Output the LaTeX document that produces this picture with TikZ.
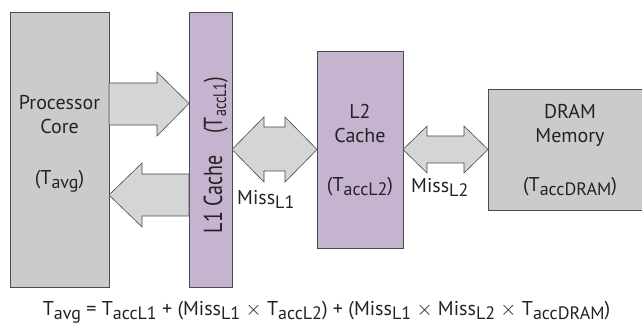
\documentclass[tikz,border=0pt]{standalone}
\usepackage{fontspec}
\setmainfont{PT Sans}
\usetikzlibrary{calc}

\definecolor{coregray}{RGB}{202,203,204}
\definecolor{arrowgray}{RGB}{212,213,214}
\definecolor{cachepurple}{RGB}{197,179,208}
\definecolor{edgegray}{RGB}{75,75,75}
\definecolor{textgray}{RGB}{35,35,35}

% large, lowered subscripts
\newcommand{\sub}[1]{\raisebox{-0.2em}{\fontsize{18}{18}\selectfont #1}}
\newcommand{\by}{$\times$}

\begin{document}
\begin{tikzpicture}[x=1pt,y=-1pt]

    \tikzset{
      unit/.style={
        draw=edgegray,
        line width=0.9pt,
        inner sep=0pt,
        outer sep=0pt,
        anchor=north west,
      },
      grayunit/.style={unit, fill=coregray},
      cacheunit/.style={unit, fill=cachepurple},
      blockarrow/.style={draw=edgegray, line width=0.6pt, fill=arrowgray},
      lbl/.style={text=textgray, inner sep=0pt, anchor=base,
        font=\fontsize{20}{24}\selectfont},
    }
    \useasboundingbox (0,0) rectangle (642,328);

    % the four units
    \node[grayunit, minimum width=99pt, minimum height=275pt] (core) at (10,12) {};
    \node[cacheunit, minimum width=43pt, minimum height=275pt] (l1) at (189,12) {};
    \node[cacheunit, minimum width=86pt, minimum height=197pt] (l2) at (317,51) {};
    \node[grayunit, minimum width=160pt, minimum height=121pt] (dram) at (488,89) {};

    % block arrows between them
    \draw[blockarrow] let \p1=(core.east), \p2=(l1.west) in
      (\x1,83) -- (\x2-32pt,83) -- (\x2-32pt,72) -- (\x2,103.5)
      -- (\x2-32pt,136) -- (\x2-32pt,125) -- (\x1,125) -- cycle;
    \draw[blockarrow] let \p1=(l1.west), \p2=(core.east) in
      (\x1,174) -- (\x2+33pt,174) -- (\x2+33pt,163) -- (\x2,195)
      -- (\x2+33pt,227) -- (\x2+33pt,216) -- (\x1,216) -- cycle;
    \draw[blockarrow] let \p1=(l1.east), \p2=(l2.west) in
      (\x1,149.5) -- (\x1+32pt,117) -- (\x1+32pt,127) -- (\x2-32pt,127)
      -- (\x2-32pt,117) -- (\x2,149.5) -- (\x2-32pt,182) -- (\x2-32pt,171)
      -- (\x1+32pt,171) -- (\x1+32pt,182) -- cycle;
    \draw[blockarrow] let \p1=(l2.east), \p2=(dram.west) in
      (\x1,149.5) -- (\x1+24pt,126) -- (\x1+24pt,136) -- (\x2-24pt,136)
      -- (\x2-24pt,126) -- (\x2,149.5) -- (\x2-24pt,173) -- (\x2-24pt,163)
      -- (\x1+24pt,163) -- (\x1+24pt,173) -- cycle;

    % labels
    \node[lbl] (coreA) at (core |- 0,110) {Processor};
    \node[lbl] (coreB) at (core |- 0,134) {Core};
    \node[lbl] (coreC) at (core |- 0,185) {(T\sub{avg})};
    \node[lbl, rotate=90] (l1txt) at (222,155)
      {\scalebox{1}[1.3]{L1 Cache\hspace{22pt}(T\textsubscript{accL1})}};
    \node[lbl] (l2A) at (l2 |- 0,119) {L2};
    \node[lbl] (l2B) at (l2 |- 0,143) {Cache};
    \node[lbl] (l2C) at (l2 |- 0,192) {(T\sub{accL2})};
    \node[lbl] (dramA) at (570,119) {DRAM};
    \node[lbl] (dramB) at (570,143) {Memory};
    \node[lbl] (dramC) at (570,192) {(T\sub{accDRAM})};
    \node[lbl, anchor=base west] (missA) at (237,205) {Miss\sub{L1}};
    \node[lbl, anchor=base west] (missB) at (411,193) {Miss\sub{L2}};

    % access time formula
    \node[lbl] (eq) at (326.5,316) {T\sub{avg} = T\sub{accL1} + (Miss\sub{L1} \by{} T\sub{accL2})
      + (Miss\sub{L1} \by{} Miss\sub{L2} \by{} T\sub{accDRAM})};

\end{tikzpicture}
\end{document}
